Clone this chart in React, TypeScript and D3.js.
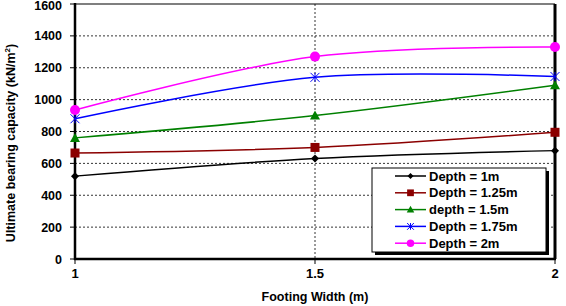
import React from 'react';
import * as d3 from 'd3';

const widths = [1, 1.5, 2];
const depth1 = [520, 630, 680];
const depth125 = [665, 700, 795];
const depth15 = [760, 900, 1090];
const depth175 = [880, 1140, 1145];
const depth2 = [935, 1270, 1330];
const yTicks = [0, 200, 400, 600, 800, 1000, 1200, 1400, 1600];
const xTicks = [1, 1.5, 2];

const series = [
  { name: 'Depth = 1m', values: depth1, color: '#000000', marker: 'diamond' },
  { name: 'Depth = 1.25m', values: depth125, color: '#8B0000', marker: 'square' },
  { name: 'depth = 1.5m', values: depth15, color: '#008000', marker: 'triangle' },
  { name: 'Depth = 1.75m', values: depth175, color: '#0000FF', marker: 'star' },
  { name: 'Depth = 2m', values: depth2, color: '#FF00FF', marker: 'circle' },
];

const font = '"Liberation Sans", Arial, sans-serif';

// s = marker scale (legend uses smaller ones)
const Marker = ({ type, x, y, color, s = 1 }: { type: string; x: number; y: number; color: string; s?: number }) => {
  if (type === 'diamond') {
    const r = 4 * s;
    return <path d={`M${x},${y - r}L${x + r},${y}L${x},${y + r}L${x - r},${y}Z`} fill={color} />;
  }
  if (type === 'square') {
    const r = 4.5 * s;
    return <rect x={x - r} y={y - r} width={2 * r} height={2 * r} fill={color} />;
  }
  if (type === 'triangle') {
    const r = 5 * s;
    return <path d={`M${x},${y - r}L${x + r},${y + r * 0.8}L${x - r},${y + r * 0.8}Z`} fill={color} />;
  }
  if (type === 'star') {
    const r = 4.5 * s;
    return (
      <g stroke={color} strokeWidth={1}>
        <line x1={x - r} y1={y - r} x2={x + r} y2={y + r} />
        <line x1={x - r} y1={y + r} x2={x + r} y2={y - r} />
        <line x1={x} y1={y - r} x2={x} y2={y + r} />
      </g>
    );
  }
  return <circle cx={x} cy={y} r={5 * s} fill={color} />;
};

const App = () => {
  const width = 566;
  const height = 306;
  const left = 75;
  const right = 555;
  const top = 4;
  const bottom = 259;

  const x = d3.scaleLinear().domain([1, 2]).range([left, right]);
  const y = d3.scaleLinear().domain([0, 1600]).range([bottom, top]);

  const line = d3
    .line<number>()
    .x((d, i) => x(widths[i]))
    .y((d) => y(d))
    .curve(d3.curveCatmullRom.alpha(0.5));

  const legendX = 372;
  const legendY = 168;
  const legendW = 174;
  const legendH = 84;

  return (
    <svg width={width} height={height} style={{ position: 'absolute', left: 0, top: 0 }}>
      <rect width={width} height={height} fill="#fff" />
      {/* gridlines */}
      {yTicks.slice(1, -1).map((t) => (
        <line key={t} x1={left} x2={right} y1={y(t)} y2={y(t)} stroke="#000" strokeWidth={0.8} strokeDasharray="2,2" />
      ))}
      <line x1={x(1.5)} x2={x(1.5)} y1={top} y2={bottom} stroke="#000" strokeWidth={0.8} strokeDasharray="2,2" />

      {/* plot frame */}
      <line x1={left} x2={right} y1={top} y2={top} stroke="#000" strokeWidth={1.2} />
      <line x1={right} x2={right} y1={top} y2={bottom} stroke="#000" strokeWidth={3} />
      <line x1={left} x2={left} y1={top - 1} y2={bottom + 1} stroke="#000" strokeWidth={2.5} />
      <line x1={left - 1} x2={right + 1} y1={bottom} y2={bottom} stroke="#000" strokeWidth={2.5} />

      {/* y ticks */}
      {yTicks.map((t) => (
        <g key={t}>
          <line x1={left - 5} x2={left} y1={y(t)} y2={y(t)} stroke="#000" strokeWidth={1} />
          <text x={62} y={Math.max(y(t), 5.5)} dy={4.5} textAnchor="end" fontFamily={font} fontWeight="bold" fontSize={12.5} fill="#000">
            {t}
          </text>
        </g>
      ))}
      {/* x ticks */}
      {xTicks.map((t) => (
        <g key={t}>
          <line x1={x(t)} x2={x(t)} y1={bottom} y2={bottom + 5} stroke="#000" strokeWidth={1} />
          <text x={x(t)} y={278} textAnchor="middle" fontFamily={font} fontWeight="bold" fontSize={13} fill="#000">
            {t}
          </text>
        </g>
      ))}

      {/* axis titles */}
      <text x={315} y={301} textAnchor="middle" fontFamily={font} fontWeight="bold" fontSize={12.5} fill="#000">
        Footing Width (m)
      </text>
      <text
        transform={`translate(15,${143}) rotate(-90)`}
        textAnchor="middle"
        fontFamily={font}
        fontWeight="bold"
        fontSize={12.5}
        fill="#000"
      >
        Ultimate bearing capacity (kN/m<tspan dy={-5} fontSize={8}>2</tspan><tspan dy={5}>)</tspan>
      </text>

      {/* series */}
      {series.map((s) => (
        <g key={s.name}>
          <path d={line(s.values) || ''} fill="none" stroke={s.color} strokeWidth={1.5} />
          {s.values.map((v, i) => (
            <Marker key={i} type={s.marker} x={x(widths[i])} y={y(v)} color={s.color} />
          ))}
        </g>
      ))}

      {/* legend */}
      <rect x={legendX + 3} y={legendY + 3} width={legendW} height={legendH} fill="#000" />
      <rect x={legendX} y={legendY} width={legendW} height={legendH} fill="#fff" stroke="#000" strokeWidth={1} />
      {series.map((s, i) => {
        const ly = legendY + 8 + i * 16.8;
        return (
          <g key={s.name}>
            <line x1={395} x2={426} y1={ly} y2={ly} stroke={s.color} strokeWidth={1.5} />
            <Marker type={s.marker} x={410.5} y={ly} color={s.color} s={0.75} />
            <text x={429} y={ly} dy="0.36em" fontFamily={font} fontWeight="bold" fontSize={13} fill="#000">
              {s.name}
            </text>
          </g>
        );
      })}
    </svg>
  );
};

export default App;
